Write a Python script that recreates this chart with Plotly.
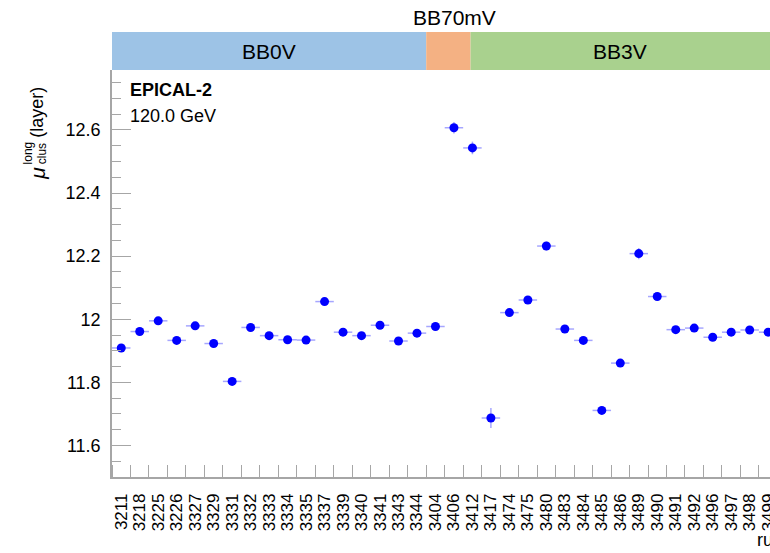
import plotly.graph_objects as go

# Run numbers (x categories) and the mean longitudinal cluster position per run
runs = ["3211", "3218", "3225", "3226", "3327", "3329", "3331", "3332", "3333", "3334",
        "3335", "3337", "3339", "3340", "3341", "3343", "3344", "3404", "3406", "3412",
        "3417", "3474", "3475", "3480", "3483", "3484", "3485", "3486", "3489", "3490",
        "3491", "3492", "3496", "3497", "3498", "3499"]
mu_long = [11.909, 11.961, 11.995, 11.933, 11.979, 11.923, 11.803, 11.974, 11.948, 11.935,
           11.934, 12.056, 11.959, 11.948, 11.981, 11.931, 11.956, 11.977, 12.607, 12.543,
           11.687, 12.021, 12.061, 12.232, 11.969, 11.933, 11.711, 11.861, 12.208, 12.072,
           11.967, 11.972, 11.943, 11.959, 11.966, 11.959]
mu_err = [0.007, 0.007, 0.007, 0.007, 0.007, 0.007, 0.008, 0.007, 0.007, 0.007,
          0.007, 0.008, 0.007, 0.007, 0.007, 0.007, 0.007, 0.008, 0.018, 0.020,
          0.032, 0.008, 0.008, 0.014, 0.008, 0.007, 0.008, 0.008, 0.018, 0.010,
          0.007, 0.007, 0.007, 0.007, 0.007, 0.007]

# bias-voltage groups: (label, first bin edge, last bin edge, colour)
bands = [
    ("BB0V", -0.5, 16.5, "#9DC3E6"),
    ("BB70mV", 16.5, 18.9, "#F4B183"),
    ("BB3V", 18.9, 35.1, "#A9D18E"),
]

FONT = "Liberation Sans, Arial, Helvetica, sans-serif"
AXIS_GREY = "#a6a6a6"
ERR_BLUE = "rgba(0,0,255,0.35)"
X_END = 35.1

bins = list(range(len(runs)))  # one bin per run

fig = go.Figure()
fig.add_trace(
    go.Scatter(
        x=bins,
        y=mu_long,
        mode="markers",
        marker=dict(color="#0000ff", size=9),
        error_x=dict(type="constant", value=0.5, color=ERR_BLUE, thickness=1.5, width=0),
        error_y=dict(type="data", array=mu_err, color=ERR_BLUE, thickness=1.5, width=0),
        showlegend=False,
    )
)

# coloured header bands above the frame
band_h = 38 / 407
for label, x0, x1, colour in bands:
    fig.add_shape(type="rect", xref="x", yref="paper", x0=x0, x1=x1, y0=1.0, y1=1.0 + band_h,
                  fillcolor=colour, line=dict(width=0), layer="above")
    if label == "BB70mV":
        ty, tx = 1.128, (x0 + x1) / 2 + 0.35
    else:
        ty, tx = 1.0 + band_h / 2, (x0 + x1) / 2
    fig.add_annotation(x=tx, y=ty, xref="x", yref="paper", xanchor="center", yanchor="middle",
                       text=label, showarrow=False, font=dict(size=21, color="black"))

# labels inside the frame
fig.add_annotation(x=0, xshift=16, y=0.951, xref="paper", yref="paper", xanchor="left",
                   yanchor="middle", text="<b>EPICAL-2</b>", showarrow=False,
                   font=dict(size=18, color="black"))
fig.add_annotation(x=0, xshift=16, y=0.887, xref="paper", yref="paper", xanchor="left",
                   yanchor="middle", text="120.0 GeV", showarrow=False,
                   font=dict(size=18, color="black"))

# y title, built from pieces so "long" and "clus" stack like in ROOT
y_title = [
    ("(layer)", -75, 0.895, 18),
    ("long", -84, 0.795, 12),
    ("clus", -70, 0.793, 12),
    ("<i>μ</i>", -74, 0.745, 21),
]
for text, dx, ypos, size in y_title:
    fig.add_annotation(x=0, xshift=dx, y=ypos, xref="paper", yref="paper", xanchor="center",
                       yanchor="middle", text=text, textangle=-90, showarrow=False,
                       font=dict(size=size, color="black"))

# x title, cut off at the right edge like the original canvas
fig.add_annotation(x=0.977, y=-0.155, xref="paper", yref="paper", xanchor="left",
                   yanchor="middle", text="run", showarrow=False,
                   font=dict(size=18, color="black"))

fig.update_xaxes(
    range=[-0.5, X_END],
    tickmode="array",
    tickvals=bins,
    ticktext=runs,
    ticks="",
    minor=dict(ticks="inside", ticklen=12, dtick=1, tick0=-0.5, tickcolor=AXIS_GREY, showgrid=False),
    tickangle=-90,
    ticklabelstandoff=8,
    ticklabeloverflow="allow",
    tickfont=dict(size=17, color="black"),
    showline=True,
    linecolor=AXIS_GREY,
    linewidth=1.5,
    showgrid=False,
    zeroline=False,
    automargin=False,
)
fig.update_yaxes(
    range=[11.5, 12.79],
    dtick=0.2,
    tick0=11.6,
    ticks="inside",
    ticklen=19,
    tickcolor=AXIS_GREY,
    ticklabelstandoff=6,
    tickfont=dict(size=18, color="black"),
    minor=dict(ticks="inside", ticklen=9, dtick=0.05, tick0=11.5, tickcolor=AXIS_GREY, showgrid=False),
    showline=True,
    linecolor=AXIS_GREY,
    linewidth=1.5,
    showgrid=False,
    zeroline=False,
    automargin=False,
)

fig.update_layout(
    width=770,
    height=553,
    margin=dict(l=112, r=0, t=70, b=76),
    plot_bgcolor="white",
    paper_bgcolor="white",
    font=dict(family=FONT, color="black"),
)

# drop the default 8px page margin so the figure sits at the window corner
fig.write_html("out.html", config={"displayModeBar": False},
               post_script="document.body.style.margin = '0';")
